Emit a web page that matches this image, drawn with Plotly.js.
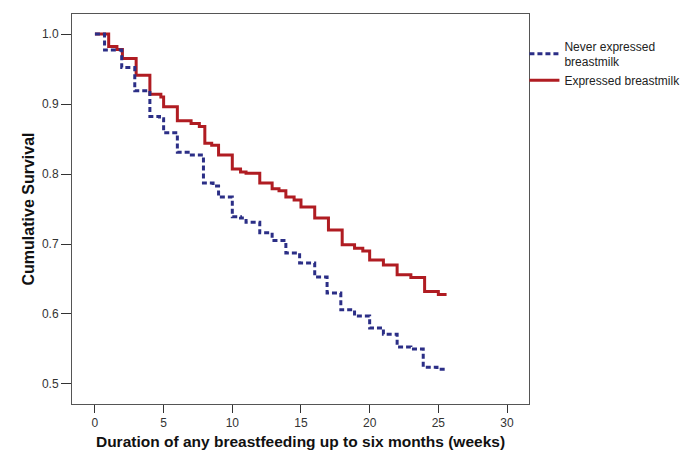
<!DOCTYPE html>
<html>
<head>
<meta charset="utf-8">
<script src="https://cdn.plot.ly/plotly-3.0.1.min.js"></script>
<style>html,body{margin:0;padding:0;background:#fff;}#chart{width:685px;height:470px;}</style>
</head>
<body>
<div id="chart"></div>
<script>
// Never expressed breastmilk (Kaplan-Meier steps)
const neverWeeks = [0, 0.7, 1.95, 2.9, 4.0, 4.7, 5.0, 6.0, 6.9, 7.9, 8.6, 9.0, 10.0, 10.6, 11.0, 12.0, 12.9, 13.9, 14.9, 16.0, 16.9, 17.9, 18.9, 20.0, 21.0, 22.0, 23.0, 23.9, 24.9, 25.6];
const neverSurv  = [1.0, 0.977, 0.952, 0.919, 0.882, 0.879, 0.859, 0.831, 0.827, 0.787, 0.783, 0.767, 0.739, 0.737, 0.731, 0.716, 0.705, 0.687, 0.673, 0.653, 0.630, 0.606, 0.597, 0.580, 0.571, 0.553, 0.550, 0.524, 0.521, 0.521];
// Expressed breastmilk
const exprWeeks = [0, 1.0, 1.6, 2.0, 3.0, 4.0, 4.8, 5.0, 6.0, 7.0, 7.6, 8.0, 8.5, 9.0, 10.0, 10.6, 11.0, 12.0, 12.9, 13.4, 13.9, 14.5, 15.0, 16.0, 17.0, 18.0, 18.9, 19.5, 20.0, 21.0, 22.0, 23.0, 24.0, 25.0, 25.6];
const exprSurv  = [1.0, 0.982, 0.978, 0.965, 0.941, 0.914, 0.910, 0.896, 0.876, 0.872, 0.868, 0.844, 0.841, 0.827, 0.807, 0.803, 0.801, 0.787, 0.779, 0.776, 0.767, 0.763, 0.753, 0.737, 0.720, 0.699, 0.694, 0.690, 0.677, 0.670, 0.656, 0.652, 0.632, 0.628, 0.628];
const seriesNames = ["Never expressed<br>breastmilk", "Expressed breastmilk"];
const xTicks = [0, 5, 10, 15, 20, 25, 30];
const yTicks = [0.5, 0.6, 0.7, 0.8, 0.9, 1.0];

const traces = [
  {x: exprWeeks, y: exprSurv, name: seriesNames[1], mode: 'lines', line: {shape: 'hv', color: '#b01c22', width: 3}, legendrank: 2},
  {x: neverWeeks, y: neverSurv, name: seriesNames[0], mode: 'lines', line: {shape: 'hv', color: '#2b2e86', width: 3, dash: '5px,3px'}, legendrank: 1}
];

const layout = {
  width: 685, height: 470,
  margin: {l: 72, r: 156, t: 14, b: 66, autoexpand: false},
  paper_bgcolor: '#fff', plot_bgcolor: '#fff',
  font: {family: 'Liberation Sans, Arial, sans-serif', color: '#222', size: 12},
  showlegend: true,
  legend: {x: 0.99, xanchor: 'left', y: 0.955, yanchor: 'top', font: {size: 12, color: '#222'}, bgcolor: 'rgba(0,0,0,0)', tracegroupgap: 4, traceorder: 'normal', itemwidth: 30},
  xaxis: {
    range: [-1.67, 31.6], tickvals: xTicks, ticktext: xTicks.map(String),
    ticks: 'outside', ticklen: 8, tickcolor: '#333', showgrid: false, zeroline: false,
    showline: true, linecolor: '#555', linewidth: 1, mirror: true,
    tickfont: {size: 12, color: '#333'},
    title: {text: '<b>Duration of any breastfeeding up to six months (weeks)</b>', font: {size: 15.5, color: '#111'}, standoff: 6}
  },
  yaxis: {
    range: [0.4714, 1.0286], tickvals: yTicks, ticktext: yTicks.map(v => v.toFixed(1)),
    ticks: 'outside', ticklen: 10, tickcolor: '#333', showgrid: false, zeroline: false,
    showline: true, linecolor: '#555', linewidth: 1, mirror: true,
    tickfont: {size: 12, color: '#333'},
    title: {text: '<b>Cumulative Survival</b>', font: {size: 16, color: '#111'}, standoff: 3}
  }
};

Plotly.newPlot('chart', traces, layout, {displayModeBar: false, staticPlot: true});
</script>
</body>
</html>
